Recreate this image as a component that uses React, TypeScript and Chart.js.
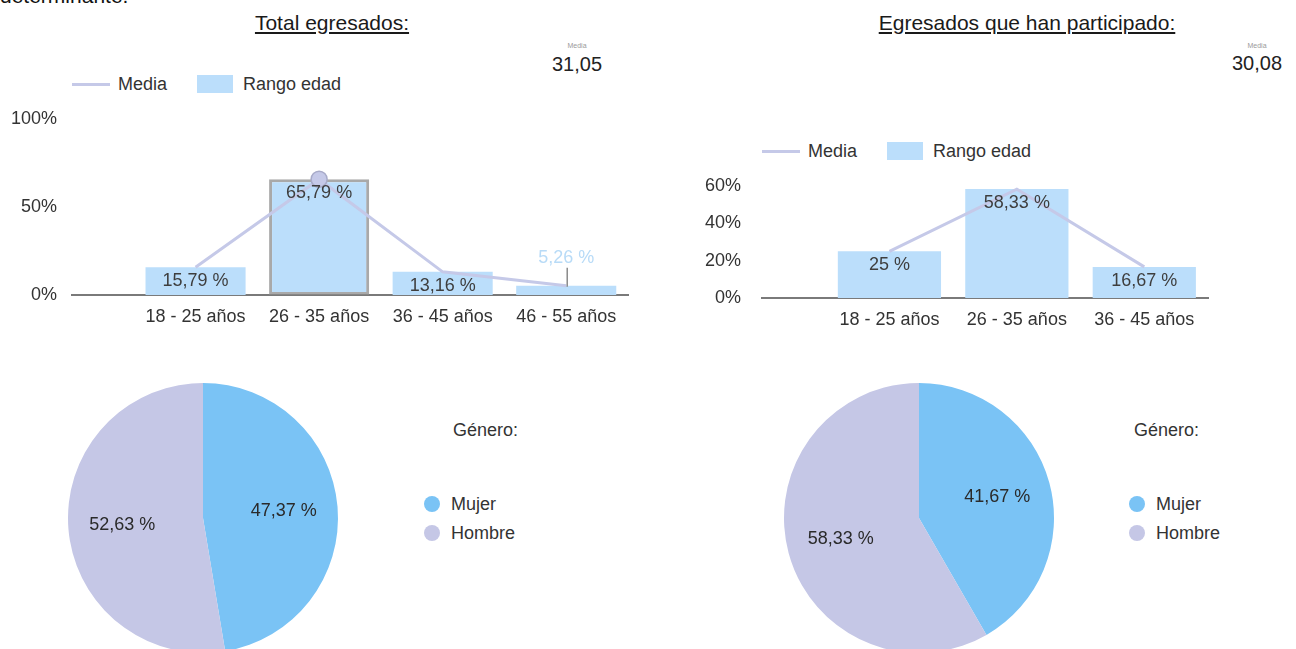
import React, { useEffect, useRef } from 'react';
import { Chart, registerables } from 'chart.js';

Chart.register(...registerables);

// ---------- data ----------
const categoriesTotal = ['18 - 25 años', '26 - 35 años', '36 - 45 años', '46 - 55 años'];
const rangoEdadTotal = [15.79, 65.79, 13.16, 5.26];
const mediaLineTotal = [15.79, 65.79, 13.16, 5.26];
const yTicksTotal = [0, 50, 100];

const categoriesPart = ['18 - 25 años', '26 - 35 años', '36 - 45 años'];
const rangoEdadPart = [25, 58.33, 16.67];
const mediaLinePart = [25, 58.33, 16.67];
const yTicksPart = [0, 20, 40, 60];

const generoLabels = ['Mujer', 'Hombre'];
const generoTotal = [47.37, 52.63];
const generoPart = [41.67, 58.33];

const mediaEdadTotal = '31,05';
const mediaEdadPart = '30,08';

// ---------- styles ----------
const FONT = '"Liberation Sans", Arial, sans-serif';
const BAR = '#bbdefb';
const LINE = '#c5c9e8';
const MUJER = '#7ac3f5';
const HOMBRE = '#c5c7e6';
const TXT = '#333333';

const fmt = (v: number) => v.toFixed(2).replace(/\.00$/, '').replace('.', ',');

const barLabelPlugin = {
  id: 'barLabels',
  afterDatasetsDraw(chart: any) {
    const ctx = chart.ctx;
    chart.data.datasets.forEach((ds: any, di: number) => {
      if (ds.type !== 'bar') return;
      const meta = chart.getDatasetMeta(di);
      meta.data.forEach((el: any, i: number) => {
        const { x, y, base } = el.getProps(['x', 'y', 'base'], true);
        const text = fmt(ds.data[i].y) + ' %';
        ctx.save();
        ctx.font = `18px ${FONT}`;
        ctx.textAlign = 'center';
        ctx.textBaseline = 'middle';
        if (base - y > 15) {
          ctx.fillStyle = '#3e3e3e';
          ctx.fillText(text, x, y + 14);
        } else {
          ctx.fillStyle = '#b8dbf7';
          ctx.fillText(text, x, y - 28);
          ctx.strokeStyle = '#8a8a8a';
          ctx.lineWidth = 1.5;
          ctx.beginPath();
          ctx.moveTo(x + 1, y - 18);
          ctx.lineTo(x + 1, y + 1);
          ctx.stroke();
        }
        ctx.restore();
      });
    });
  },
};

const pieLabelPlugin = {
  id: 'pieLabels',
  afterDatasetsDraw(chart: any) {
    const ctx = chart.ctx;
    const ds = chart.data.datasets[0];
    const meta = chart.getDatasetMeta(0);
    meta.data.forEach((arc: any, i: number) => {
      const { x, y, startAngle, endAngle, outerRadius } = arc.getProps(
        ['x', 'y', 'startAngle', 'endAngle', 'outerRadius'],
        true
      );
      const mid = (startAngle + endAngle) / 2;
      const r = outerRadius * 0.6;
      ctx.save();
      ctx.font = `18px ${FONT}`;
      ctx.fillStyle = '#2a2a2a';
      ctx.textAlign = 'center';
      ctx.textBaseline = 'middle';
      ctx.fillText(fmt(ds.data[i]) + ' %', x + Math.cos(mid) * r, y + Math.sin(mid) * r);
      ctx.restore();
    });
  },
};

type Area = { left: number; right: number; top: number; xh: number; ypad: number };

function BarLineChart(props: {
  categories: string[];
  bars: number[];
  line: number[];
  yTicks: number[];
  highlight: number;
  x: number;
  y: number;
  w: number;
  h: number;
  area: Area;
}) {
  const ref = useRef<HTMLCanvasElement>(null);
  useEffect(() => {
    const { categories, bars, line, yTicks, highlight, area } = props;
    const n = categories.length;
    const yMax = yTicks[yTicks.length - 1];
    const chart = new Chart(ref.current as HTMLCanvasElement, {
      type: 'bar',
      data: {
        datasets: [
          {
            type: 'line',
            label: 'Media',
            data: line.map((v, i) => ({ x: i + 1, y: v })),
            borderColor: LINE,
            borderWidth: 3,
            pointRadius: line.map((_, i) => (i === highlight ? 8 : 0)),
            pointBackgroundColor: LINE,
            pointBorderColor: '#a8abc9',
            pointBorderWidth: 1.5,
            tension: 0,
            order: 0,
          } as any,
          {
            type: 'bar',
            label: 'Rango edad',
            data: bars.map((v, i) => ({ x: i + 1, y: v })),
            backgroundColor: BAR,
            borderColor: 'rgba(140,140,140,0.75)',
            borderWidth: bars.map((_, i) => (i === highlight ? 3 : 0)),
            borderSkipped: false,
            barPercentage: 0.81,
            categoryPercentage: 1,
            order: 1,
          } as any,
        ],
      },
      options: {
        responsive: false,
        animation: false,
        layout: { padding: { top: area.top, right: area.right, left: 0, bottom: 0 } },
        plugins: { legend: { display: false }, tooltip: { enabled: false } },
        scales: {
          x: {
            type: 'linear',
            offset: false,
            min: 0,
            max: n + 0.5,
            grid: { display: false, drawTicks: false },
            border: { display: true, color: '#7a7a7a', width: 2 },
            ticks: {
              stepSize: 1,
              includeBounds: false,
              autoSkip: false,
              maxRotation: 0,
              padding: 11,
              color: TXT,
              font: { family: FONT, size: 18 },
              callback: (v: any) => {
                const k = Number(v);
                return Number.isInteger(k) && k >= 1 && k <= n ? categories[k - 1] : '';
              },
            },
            afterFit: (s: any) => {
              s.height = area.xh;
              s.paddingLeft = 0;
              s.paddingRight = 0;
            },
          } as any,
          y: {
            min: 0,
            max: yMax,
            afterBuildTicks: (s: any) => {
              s.ticks = yTicks.map((v) => ({ value: v }));
            },
            grid: { display: false, drawTicks: false },
            border: { display: false },
            ticks: {
              padding: area.ypad,
              color: TXT,
              font: { family: FONT, size: 18 },
              callback: (v: any) => v + '%',
            },
            afterFit: (s: any) => {
              s.width = area.left;
              s.paddingTop = 0;
              s.paddingBottom = 0;
            },
          } as any,
        },
      },
      plugins: [barLabelPlugin],
    });
    return () => chart.destroy();
  }, []);
  return (
    <canvas
      ref={ref}
      width={props.w}
      height={props.h}
      style={{ position: 'absolute', left: props.x, top: props.y, width: props.w, height: props.h }}
    />
  );
}

function PieChart(props: { values: number[]; x: number; y: number; size: number }) {
  const ref = useRef<HTMLCanvasElement>(null);
  useEffect(() => {
    const chart = new Chart(ref.current as HTMLCanvasElement, {
      type: 'pie',
      data: {
        labels: generoLabels,
        datasets: [{ data: props.values, backgroundColor: [MUJER, HOMBRE], borderWidth: 0 }],
      },
      options: {
        responsive: false,
        animation: false,
        layout: { padding: 15 },
        plugins: { legend: { display: false }, tooltip: { enabled: false } },
      },
      plugins: [pieLabelPlugin],
    });
    return () => chart.destroy();
  }, []);
  return (
    <canvas
      ref={ref}
      width={props.size}
      height={props.size}
      style={{ position: 'absolute', left: props.x, top: props.y, width: props.size, height: props.size }}
    />
  );
}

function T(props: {
  x: number;
  y: number;
  size: number;
  color?: string;
  center?: boolean;
  underline?: boolean;
  children: React.ReactNode;
}) {
  return (
    <div
      style={{
        position: 'absolute',
        left: props.x,
        top: props.y - props.size * 0.5,
        fontSize: props.size,
        lineHeight: `${props.size}px`,
        color: props.color || TXT,
        whiteSpace: 'nowrap',
        transform: props.center ? 'translateX(-50%)' : undefined,
        textDecoration: props.underline ? 'underline' : undefined,
      }}
    >
      {props.children}
    </div>
  );
}

function Legend(props: { x: number; y: number }) {
  const { x, y } = props;
  return (
    <>
      <div style={{ position: 'absolute', left: x, top: y - 1, width: 38, height: 3, background: LINE }} />
      <T x={x + 46} y={y} size={18}>Media</T>
      <div style={{ position: 'absolute', left: x + 125, top: y - 9, width: 36, height: 18, background: BAR }} />
      <T x={x + 171} y={y} size={18}>Rango edad</T>
    </>
  );
}

function GenderLegend(props: { x: number; gx: number }) {
  const { x, gx } = props;
  return (
    <>
      <T x={gx} y={430} size={18}>Género:</T>
      <div style={{ position: 'absolute', left: x - 8, top: 504 - 8, width: 16, height: 16, borderRadius: 8, background: MUJER }} />
      <T x={x + 19} y={504} size={18}>{generoLabels[0]}</T>
      <div style={{ position: 'absolute', left: x - 8, top: 533 - 8, width: 16, height: 16, borderRadius: 8, background: HOMBRE }} />
      <T x={x + 19} y={533} size={18}>{generoLabels[1]}</T>
    </>
  );
}

export default function App() {
  return (
    <div
      style={{
        position: 'absolute',
        left: 0,
        top: 0,
        width: 1296,
        height: 649,
        overflow: 'hidden',
        background: '#ffffff',
        fontFamily: FONT,
      }}
    >
      <T x={0} y={-5} size={21} color="#111">determinante.</T>

      <T x={332} y={22} size={21} color="#1a1a1a" center underline>Total egresados:</T>
      <T x={1027} y={22} size={21} color="#1a1a1a" center underline>Egresados que han participado:</T>

      <T x={577} y={45} size={7} color="#9a9a9a" center>Media</T>
      <T x={577} y={64} size={20} color="#222" center>{mediaEdadTotal}</T>
      <T x={1257} y={45} size={7} color="#9a9a9a" center>Media</T>
      <T x={1257} y={63} size={20} color="#222" center>{mediaEdadPart}</T>

      <Legend x={72} y={84} />
      <Legend x={762} y={151} />

      <BarLineChart
        categories={categoriesTotal}
        bars={rangoEdadTotal}
        line={mediaLineTotal}
        yTicks={yTicksTotal}
        highlight={1}
        x={0}
        y={100}
        w={650}
        h={240}
        area={{ left: 72, right: 22, top: 19, xh: 45, ypad: 15 }}
      />
      <BarLineChart
        categories={categoriesPart}
        bars={rangoEdadPart}
        line={mediaLinePart}
        yTicks={yTicksPart}
        highlight={-1}
        x={650}
        y={170}
        w={646}
        h={180}
        area={{ left: 112, right: 88, top: 16, xh: 52, ypad: 21 }}
      />

      <PieChart values={generoTotal} x={53} y={368} size={300} />
      <PieChart values={generoPart} x={769} y={368} size={300} />

      <GenderLegend x={432} gx={453} />
      <GenderLegend x={1137} gx={1134} />
    </div>
  );
}
